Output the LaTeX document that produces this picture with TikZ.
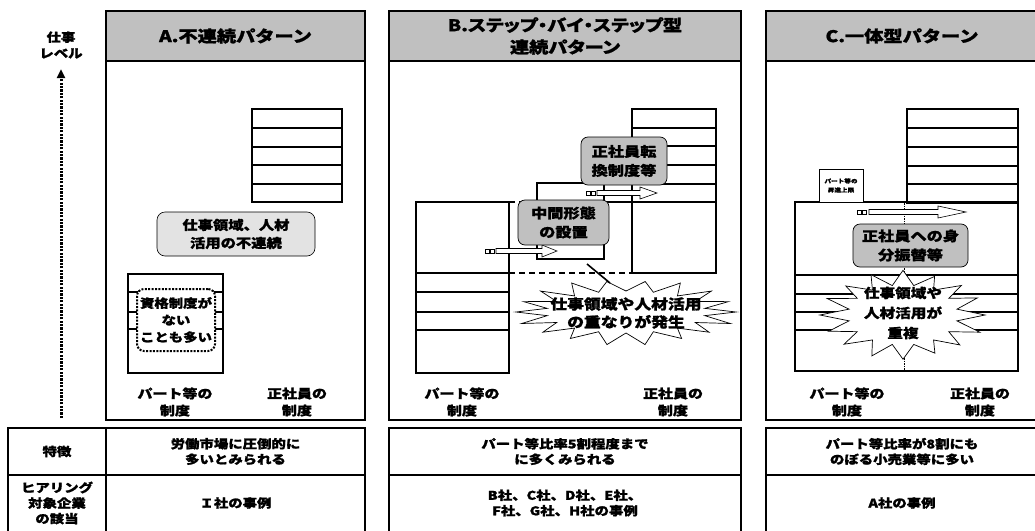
\documentclass[tikz,border=0pt]{standalone}
\usepackage{fontspec}
\setmainfont{Noto Sans CJK JP}[FakeStretch=1.2,BoldFeatures={FakeBold=1.3}]
\usetikzlibrary{arrows.meta,calc}
\definecolor{hdrgray}{HTML}{C0C0C0}
\definecolor{boxgray}{HTML}{C0C0C0}
\definecolor{dotgray}{HTML}{E3E3E3}
\newcommand{\hollowarrow}[5]{%
  \draw[line width=0.6pt,fill=white] (#2,#1-2) rectangle (#2+4,#1+2);
  \draw[line width=0.6pt,fill=white] (#2+5.5,#1-2) rectangle (#2+9.5,#1+2);
  \draw[line width=0.6pt,fill=white] (#3,#1-2.5) -- (#4,#1-2.5) -- (#4,#1-6) -- (#5,#1) -- (#4,#1+6) -- (#4,#1+2.5) -- (#3,#1+2.5) -- cycle;}
\tikzset{
  frame/.style={draw=black,line width=1.8pt},
  hdr/.style={fill=hdrgray},
  grid/.style={draw=black,line width=2pt},
  hdrtxt/.style={font=\bfseries\fontsize{16}{22}\selectfont,align=center,inner sep=0pt},
  lbl/.style={font=\bfseries\fontsize{12.5}{17}\selectfont,align=center,inner sep=0pt},
  tbl/.style={font=\bfseries\fontsize{12}{15.5}\selectfont,align=center,inner sep=0pt},
  graybox/.style={draw=black,line width=0.7pt,fill=boxgray,rounded corners=7pt,align=center,
     font=\bfseries\fontsize{13.5}{19}\selectfont,inner sep=0pt},
  burstshape/.style={draw=black,line width=0.7pt,fill=white,line join=miter},
  bursttxt/.style={align=center,inner sep=0pt,font=\bfseries\fontsize{14}{18}\selectfont},
  dashline/.style={draw=black,line width=2pt,dash pattern=on 6pt off 4pt},
}
\begin{document}
\begin{tikzpicture}[x=1pt,y=-1pt]
\useasboundingbox (0,0) rectangle (1035,530);
\clip (0,0) rectangle (1035,530);

% ---------- axis ----------
\node[font=\bfseries\fontsize{12}{16}\selectfont,align=center,inner sep=0pt] (axl) at (61,45) {仕事\\レベル};
\coordinate (axb) at (61,418);
\coordinate (axt) at (61,69);
\draw[line width=3pt,dash pattern=on 2.2pt off 1.2pt,-{Triangle[width=8pt,length=9pt]}] (axb) -- (axt);

% ---------- Panel A ----------
\draw[hdr] (106,11) rectangle (365,61);
\draw[frame] (106,61) -- (365,61);
\draw[frame] (106,11) rectangle (365,420);
\node[hdrtxt] (hA) at (235.5,36) {A.不連続パターン};
\draw[grid] (252,109) rectangle (342,202);
\foreach \yy in {128,147,165,184} \draw[grid] (252,\yy) -- (342,\yy);
\draw[grid] (128,274) rectangle (223,373);
\foreach \yy in {292,312,329} \draw[grid] (128,\yy) -- (223,\yy);
\node[draw=black,line width=0.6pt,fill=dotgray,rounded corners=8pt,minimum width=158pt,minimum height=44pt,
  align=center,inner sep=0pt,font=\bfseries\fontsize{12.75}{18}\selectfont] (dcA) at (236,234) {仕事領域、人材\\活用の不連続};
\node[draw=black,line width=2pt,dash pattern=on 2pt off 1.4pt,fill=white,rounded corners=7pt,minimum width=78pt,
  minimum height=62pt,align=center,inner sep=0pt,font=\bfseries\fontsize{12}{17}\selectfont] (qA) at (176,320) {資格制度が\\ない\\ことも多い};
\node[lbl] (pA) at (175,402) {パート等の\\制度};
\node[lbl] (sA) at (297,402) {正社員の\\制度};

% ---------- Panel B ----------
\draw[hdr] (389,11) rectangle (741,61);
\draw[frame] (389,61) -- (741,61);
\draw[frame] (389,11) rectangle (741,420);
\node[hdrtxt] (hB) at (565,36) {\addfontfeature{RawFeature=+palt}B.ステップ・バイ・ステップ型\\\addfontfeature{RawFeature=+palt}連続パターン};
\draw[dashline] (509,202) -- (632,202);
\draw[dashline] (509,273) -- (632,273);
\draw[grid] (416,202) rectangle (509,373);
\foreach \yy in {273,292,312,330} \draw[grid] (416,\yy) -- (509,\yy);
\draw[grid] (632,109) rectangle (716,273);
\foreach \yy in {128,146,165,184,202} \draw[grid] (632,\yy) -- (716,\yy);
\draw[grid,fill=white] (537,183) rectangle (604,259);
\draw[dashline] (604,202) -- (632,202);
\hollowarrow{251}{485}{496}{542}{557}
\node[graybox,minimum width=91pt,minimum height=45pt] (gB1) at (563.5,222.5) {中間形態\\の設置};
\hollowarrow{193}{586}{597}{640}{657}
\node[graybox,minimum width=86pt,minimum height=48pt] (gB2) at (624,161) {正社員転\\換制度等};
\draw[burstshape] plot[variable=\i,samples at={0,...,35}]
  ({626+(80+30*(1-mod(\i,2))*(1+0.05*sin(70*\i)))*cos(10*\i)},
   {312+(21+11*(1-mod(\i,2))*(1+0.15*sin(50*\i)))*sin(10*\i)}) -- cycle;
\node[bursttxt] (bB) at (626,313) {仕事領域や人材活用\\の重なりが発生};
\coordinate (ovB) at (587,264);
\coordinate (tipB) at (610,283);
\draw[line width=1.6pt] (tipB) -- (ovB);
\node[lbl] (pB) at (462,402) {パート等の\\制度};
\node[lbl] (sB) at (673,402) {正社員の\\制度};

% ---------- Panel C ----------
\draw[hdr] (766,11) rectangle (1039,61);
\draw[frame] (766,61) -- (1039,61);
\draw[frame] (766,11) rectangle (1039,420);
\node[hdrtxt] (hC) at (902,36) {C.一体型パターン};
\draw[grid] (907,109) rectangle (1018,203);
\foreach \yy in {128,147,166,184} \draw[grid] (907,\yy) -- (1018,\yy);
\draw[grid] (795,202) rectangle (1018,371);
\foreach \yy in {275,294,312,330} \draw[grid] (795,\yy) -- (1018,\yy);
\draw[line width=1pt,dash pattern=on 1.5pt off 1pt] (904,203) -- (904,370);
\node[draw=black,line width=0.6pt,fill=white,minimum width=44pt,minimum height=33pt,align=center,inner sep=0pt,
  font=\bfseries\fontsize{5.5}{9}\selectfont] (lim) at (841,185.5) {パート等の\\昇進上限};
\hollowarrow{212}{857}{869}{938}{966}
\node[graybox,minimum width=115pt,minimum height=43pt] (gC) at (910.5,245.5) {正社員への身\\分振替等};
\draw[burstshape] plot[variable=\i,samples at={0,...,31}]
  ({903+(55+27*(1-mod(\i,2))*(1+0.06*sin(70*\i)))*cos(11.25*\i)},
   {315+(30+13*(1-mod(\i,2))*(1+0.15*sin(50*\i)))*sin(11.25*\i)}) -- cycle;
\node[bursttxt,font=\bfseries\fontsize{13}{20}\selectfont] (bC) at (903,313) {仕事領域や\\人材活用が\\重複};
\node[lbl] (pC) at (847,402) {パート等の\\制度};
\node[lbl] (sC) at (980,402) {正社員の\\制度};

% ---------- Tables ----------
\draw[frame] (8,428) rectangle (365,545);
\draw[frame] (106,428) -- (106,545);
\draw[frame] (8,475) -- (365,475);
\node[tbl] (t1) at (57,451.5) {特徴};
\node[tbl] (t2) at (57,503) {ヒアリング\\対象企業\\の該当};
\node[tbl] (tA1) at (235.5,451.5) {労働市場に圧倒的に\\多いとみられる};
\node[tbl] (tA2) at (235.5,503) {Ｉ社の事例};

\draw[frame] (389,428) rectangle (741,545);
\draw[frame] (389,475) -- (741,475);
\node[tbl] (tB1) at (565,451.5) {パート等比率5割程度まで\\に多くみられる};
\node[tbl] (tB2) at (565,503) {B社、C社、D社、E社、\\F社、G社、H社の事例};

\draw[frame] (766,428) rectangle (1039,545);
\draw[frame] (766,475) -- (1039,475);
\node[tbl] (tC1) at (902,451.5) {パート等比率が8割にも\\のぼる小売業等に多い};
\node[tbl] (tC2) at (902,503) {A社の事例};
\end{tikzpicture}
\end{document}
